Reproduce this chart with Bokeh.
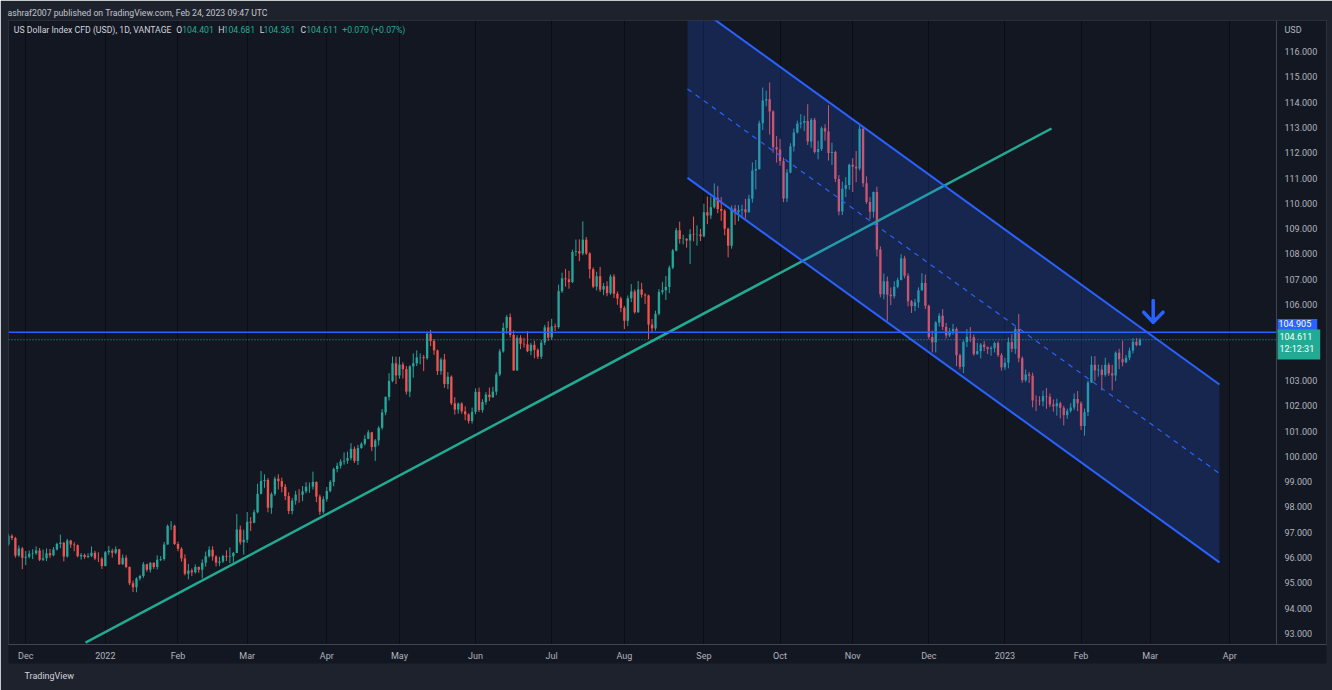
import numpy as np
import pandas as pd
from bokeh.plotting import figure
from bokeh.models import (Range1d, FixedTicker, NumeralTickFormatter, Label, Title,
                          ColumnDataSource)
from bokeh.embed import file_html
from bokeh.resources import INLINE

FONT = "Roboto"

# ---------------- daily candles (US Dollar Index CFD, 1D) ----------------
first_open = 96.50

c_2021_11 = [96.52, 96.86, 96.77, 96.08, 96.36, 95.99]
h_2021_11 = [96.72, 96.94, 96.92, 96.82, 96.48, 96.42]
l_2021_11 = [96.38, 96.47, 96.69, 96.00, 96.03, 95.54]

c_2021_12 = [96.03, 96.15, 96.17, 96.28, 95.91, 95.97, 96.17, 96.09, 96.32, 96.54, 96.59, 96.04,
             96.68, 96.52, 96.49, 96.05, 96.10, 96.02, 96.06, 96.19, 95.96, 95.95, 95.67]
h_2021_12 = [96.26, 96.28, 96.33, 96.44, 96.38, 96.32, 96.36, 96.34, 96.42, 96.59, 96.91, 96.62,
             96.74, 96.70, 96.61, 96.52, 96.18, 96.16, 96.17, 96.44, 96.27, 96.21, 96.02]
l_2021_12 = [95.70, 95.97, 95.94, 96.11, 95.86, 95.86, 95.86, 95.99, 96.05, 96.28, 96.37, 95.85,
             96.00, 96.38, 96.25, 96.01, 95.92, 95.95, 95.98, 96.02, 95.90, 95.82, 95.55]

c_2022_01 = [96.21, 96.27, 96.19, 96.33, 95.74, 95.99, 95.63, 94.99, 94.83, 95.17, 95.27, 95.74,
             95.52, 95.80, 95.63, 95.91, 95.94, 96.52, 97.25, 97.26, 96.54]
h_2022_01 = [96.26, 96.46, 96.35, 96.44, 96.34, 96.12, 96.09, 95.65, 95.09, 95.22, 95.32, 95.82,
             95.76, 95.82, 95.81, 96.09, 96.06, 96.62, 97.31, 97.44, 97.30]
l_2022_01 = [95.65, 96.11, 96.00, 96.13, 95.71, 95.71, 95.58, 94.91, 94.64, 94.63, 95.10, 95.20,
             95.45, 95.41, 95.55, 95.53, 95.86, 95.88, 96.51, 97.09, 96.50]

c_2022_02 = [96.35, 95.96, 95.36, 95.49, 95.42, 95.63, 95.52, 95.80, 96.05, 96.31, 96.04, 95.80,
             95.85, 96.06, 96.03, 96.05, 96.18, 97.11, 96.61, 96.71]
h_2022_02 = [96.63, 96.41, 96.13, 95.75, 95.57, 95.73, 95.65, 95.93, 96.24, 96.44, 96.45, 96.09,
             96.03, 96.11, 96.29, 96.40, 96.22, 97.72, 97.27, 97.10]
l_2022_02 = [96.25, 95.84, 95.30, 95.14, 95.27, 95.37, 95.40, 95.18, 95.64, 96.00, 95.88, 95.65,
             95.67, 95.79, 95.86, 95.78, 95.81, 96.18, 96.51, 96.12]

c_2022_03 = [97.42, 97.38, 97.79, 98.52, 99.03, 99.07, 97.97, 98.51, 99.12, 99.02, 98.80, 98.43,
             97.84, 98.25, 98.49, 98.48, 98.62, 98.80, 98.81, 98.99, 98.41, 97.81, 98.31]
h_2022_03 = [97.80, 97.60, 97.89, 98.92, 99.42, 99.29, 99.14, 98.58, 99.20, 99.29, 99.16, 98.91,
             98.58, 98.36, 98.64, 98.71, 98.83, 98.98, 98.97, 99.40, 99.01, 98.49, 98.42]
l_2022_03 = [96.58, 97.05, 97.36, 97.75, 98.50, 98.76, 97.79, 97.73, 98.44, 98.69, 98.58, 98.27,
             97.72, 97.71, 98.09, 98.17, 98.23, 98.54, 98.56, 98.69, 98.19, 97.69, 97.73]

c_2022_04 = [98.63, 98.99, 99.50, 99.63, 99.80, 99.83, 99.93, 100.30, 99.82, 100.33, 100.50, 100.69,
             100.95, 100.37, 100.63, 101.13, 101.74, 102.35, 102.98, 103.68, 103.20]
h_2022_04 = [98.79, 99.06, 99.56, 99.75, 99.89, 100.16, 100.19, 100.52, 100.39, 100.45, 100.56, 100.84,
             101.04, 100.97, 100.69, 101.19, 101.87, 102.37, 103.29, 103.95, 103.94]
l_2022_04 = [98.21, 98.58, 98.82, 99.37, 99.52, 99.67, 99.71, 99.84, 99.74, 99.66, 100.30, 100.43,
             100.68, 100.21, 99.82, 100.43, 101.06, 101.63, 102.21, 102.93, 102.86]

c_2022_05 = [103.63, 103.45, 102.56, 103.56, 103.68, 103.91, 103.92, 103.88, 104.85, 104.56, 104.19,
             103.37, 103.83, 102.86, 103.15, 102.10, 101.85, 102.09, 101.78, 101.66, 101.40, 101.76]
h_2022_05 = [103.94, 103.72, 103.57, 103.60, 104.07, 104.19, 104.07, 104.01, 104.93, 105.00, 104.64,
             104.22, 103.90, 104.05, 103.33, 103.20, 102.34, 102.13, 102.14, 101.98, 101.70, 101.93]
l_2022_05 = [103.07, 103.08, 102.45, 102.35, 103.11, 103.57, 103.64, 103.37, 103.82, 104.36, 104.01,
             103.22, 103.23, 102.71, 102.66, 102.03, 101.65, 101.69, 101.69, 101.43, 101.30, 101.30]

c_2022_06 = [102.55, 101.83, 102.15, 102.44, 102.34, 102.56, 103.24, 104.15, 105.08, 105.51, 104.80,
             103.40, 104.69, 104.45, 104.43, 104.16, 104.41, 104.21, 103.94, 104.50, 105.10, 104.70]
h_2022_06 = [102.69, 102.72, 102.26, 102.54, 102.72, 102.75, 103.33, 104.24, 105.28, 105.59, 105.65,
             104.98, 104.79, 104.79, 104.69, 104.95, 104.49, 104.57, 104.27, 104.60, 105.20, 105.34]
l_2022_06 = [101.66, 101.75, 101.73, 102.04, 102.19, 102.31, 102.42, 103.17, 104.10, 104.85, 104.70,
             103.38, 103.38, 104.24, 104.30, 104.12, 104.00, 103.88, 103.85, 103.85, 104.40, 104.56]

c_2022_07 = [105.14, 105.11, 106.53, 107.04, 107.00, 106.89, 108.08, 108.11, 108.02, 108.56, 108.02,
             107.40, 106.71, 107.12, 106.59, 106.73, 106.45, 107.11, 106.43, 106.24, 105.87]
h_2022_07 = [105.44, 105.25, 106.79, 107.26, 107.41, 107.34, 108.17, 108.57, 108.58, 109.29, 108.67,
             108.07, 107.47, 107.30, 107.49, 106.85, 106.92, 107.19, 107.20, 106.52, 106.31]
l_2022_07 = [104.60, 104.96, 105.05, 106.46, 106.71, 106.63, 106.85, 107.92, 107.72, 107.95, 107.96,
             107.03, 106.65, 106.56, 106.50, 106.37, 106.33, 106.39, 106.26, 105.99, 105.70]

c_2022_08 = [105.36, 106.25, 106.52, 105.70, 106.60, 106.39, 106.36, 105.21, 105.06, 105.64, 106.50,
             106.57, 106.70, 107.46, 108.14, 108.94, 108.59, 108.60, 108.53, 108.78, 108.76, 108.77, 108.70]
h_2022_08 = [105.95, 106.36, 106.81, 106.60, 106.93, 106.86, 106.45, 106.39, 105.43, 105.76, 106.61,
             106.90, 107.13, 107.54, 108.20, 109.03, 109.28, 108.76, 108.62, 108.98, 109.48, 109.13, 108.99]
l_2022_08 = [105.03, 105.15, 106.10, 105.64, 105.67, 106.27, 106.02, 104.64, 104.87, 104.97, 105.57,
             106.40, 106.18, 106.45, 107.40, 108.10, 108.41, 108.38, 108.25, 107.60, 108.50, 108.33, 108.51]

c_2022_09 = [109.65, 109.52, 109.85, 110.22, 109.78, 109.71, 109.00, 108.33, 109.80, 109.65, 109.73,
             109.77, 109.65, 110.18, 111.30, 111.36, 113.17, 114.07, 114.12, 113.63, 112.22, 112.13]
h_2022_09 = [109.99, 110.27, 110.27, 110.79, 110.69, 110.25, 109.77, 109.04, 109.92, 109.94, 109.93,
             109.95, 110.18, 110.34, 111.62, 111.72, 113.27, 114.58, 114.46, 114.78, 113.68, 112.66]
l_2022_09 = [108.66, 109.18, 109.38, 109.80, 109.61, 109.31, 108.74, 107.87, 108.21, 109.15, 109.30,
             109.43, 109.41, 109.64, 110.03, 110.55, 111.33, 112.90, 113.84, 112.72, 112.00, 111.61]

c_2022_10 = [111.68, 110.19, 111.22, 112.25, 112.80, 113.15, 113.19, 113.26, 112.45, 113.31, 112.03,
             112.15, 112.97, 112.84, 111.99, 112.03, 110.96, 109.68, 110.58, 110.73, 111.53]
h_2022_10 = [112.55, 111.81, 111.36, 112.38, 112.96, 113.27, 113.53, 113.47, 113.92, 113.37, 113.38,
             112.48, 113.04, 113.13, 113.88, 112.40, 112.08, 111.12, 110.86, 111.04, 111.57]
l_2022_10 = [111.49, 110.05, 110.05, 111.19, 112.05, 112.76, 112.96, 112.86, 112.31, 112.20, 111.97,
             111.74, 112.07, 112.48, 111.69, 111.52, 110.84, 109.53, 109.54, 110.25, 110.54]

c_2022_11 = [111.45, 111.38, 112.95, 110.80, 110.06, 109.67, 110.45, 108.18, 106.41, 106.92, 106.39,
             106.33, 106.70, 106.97, 107.83, 107.14, 106.13, 105.94, 106.09, 106.56, 106.86, 105.95]
h_2022_11 = [111.79, 112.07, 113.08, 113.02, 111.07, 110.25, 110.47, 110.66, 108.30, 107.23, 107.11,
             106.68, 106.92, 107.06, 107.99, 107.93, 107.24, 106.18, 106.22, 106.68, 107.24, 107.19]
l_2022_11 = [110.45, 110.84, 111.30, 110.65, 109.98, 109.37, 109.44, 107.90, 106.29, 106.21, 105.36,
             105.98, 106.24, 106.64, 106.96, 107.04, 105.93, 105.67, 105.74, 105.87, 106.56, 105.82]

c_2022_12 = [104.72, 104.51, 105.29, 105.56, 105.12, 104.78, 104.94, 105.04, 104.00, 103.54, 104.52,
             104.73, 104.71, 104.04, 104.16, 104.42, 104.32, 104.24, 104.28, 104.48, 104.00, 103.52]
h_2022_12 = [106.00, 104.97, 105.35, 105.66, 105.82, 105.28, 105.07, 105.24, 105.10, 104.06, 104.59,
             105.03, 105.11, 104.82, 104.49, 104.48, 104.56, 104.34, 104.36, 104.53, 104.55, 104.08]
l_2022_12 = [104.63, 104.11, 104.11, 105.13, 104.99, 104.66, 104.71, 104.81, 103.57, 103.44, 103.29,
             104.32, 104.52, 103.98, 104.02, 103.87, 104.16, 104.05, 103.98, 104.11, 103.93, 103.39]

c_2023_01 = [103.70, 104.52, 104.25, 105.03, 103.88, 103.01, 103.24, 103.19, 102.21, 102.20, 102.18,
             102.38, 102.36, 102.05, 101.98, 102.10, 101.92, 101.63, 101.80, 101.93, 102.27, 102.10]
h_2023_01 = [103.90, 104.70, 104.83, 105.12, 105.63, 103.95, 103.43, 103.34, 103.31, 102.41, 102.38,
             102.60, 102.70, 102.49, 102.25, 102.28, 102.16, 102.00, 101.89, 102.10, 102.49, 102.58]
l_2023_01 = [103.41, 103.48, 104.12, 104.05, 103.72, 102.91, 102.94, 102.90, 101.94, 101.79, 102.01,
             101.98, 101.88, 101.95, 101.77, 101.61, 101.50, 101.22, 101.48, 101.73, 101.83, 101.79]

c_2023_02 = [101.20, 101.75, 102.92, 103.62, 103.40, 103.43, 103.22, 103.62, 103.28, 103.20, 104.10,
             103.84, 103.72, 103.90, 104.18, 104.53, 104.401, 104.611]
h_2023_02 = [102.18, 101.89, 103.00, 103.96, 103.96, 103.63, 103.61, 103.90, 103.70, 103.62, 104.15,
             104.25, 104.58, 104.01, 104.30, 104.67, 104.68, 104.681]
l_2023_02 = [101.04, 100.82, 101.60, 102.90, 102.99, 103.15, 102.61, 103.15, 103.18, 102.61, 102.98,
             103.45, 103.56, 103.68, 103.80, 104.07, 104.35, 104.361]

# time axis labels (first trading day of each month)
month_labels = ["Dec", "2022", "Feb", "Mar", "Apr", "May", "Jun", "Jul", "Aug", "Sep",
                "Oct", "Nov", "Dec", "2023", "Feb", "Mar", "Apr"]
price_ticks = list(range(93, 117))

# drawings (bar index, price)
trend_x = [23.27, 302.46]
trend_y = [92.64, 112.96]
chan_x = [197.25, 351.0]
chan_upper = [118.04, 102.84]
chan_lower = [111.01, 95.81]
level_price = 104.905
last_price = 104.611
last_time = "12:12:31"
arrow_stem_x = [331.85, 331.85]
arrow_stem_y = [106.16, 105.30]
arrow_head_x = [329.1, 331.85, 334.7]
arrow_head_y = [105.70, 105.30, 105.70]

header_title = "ashraf2007 published on TradingView.com, Feb 24, 2023 09:47 UTC"
header_parts = [("US Dollar Index CFD (USD), 1D, VANTAGE", 13.3, "#d1d4dc"),
                ("O", 175.7, "#d1d4dc"), ("104.401", 181.7, "#22ab94"),
                ("H", 217.7, "#d1d4dc"), ("104.681", 223.0, "#22ab94"),
                ("L", 259.3, "#d1d4dc"), ("104.361", 263.0, "#22ab94"),
                ("C", 300.0, "#d1d4dc"), ("104.611", 305.7, "#22ab94"),
                ("+0.070 (+0.07%)", 341.7, "#22ab94")]

# ---------------- assemble ----------------
close = (c_2021_11 + c_2021_12 + c_2022_01 + c_2022_02 + c_2022_03 + c_2022_04 + c_2022_05 +
         c_2022_06 + c_2022_07 + c_2022_08 + c_2022_09 + c_2022_10 + c_2022_11 + c_2022_12 +
         c_2023_01 + c_2023_02)
high = (h_2021_11 + h_2021_12 + h_2022_01 + h_2022_02 + h_2022_03 + h_2022_04 + h_2022_05 +
        h_2022_06 + h_2022_07 + h_2022_08 + h_2022_09 + h_2022_10 + h_2022_11 + h_2022_12 +
        h_2023_01 + h_2023_02)
low = (l_2021_11 + l_2021_12 + l_2022_01 + l_2022_02 + l_2022_03 + l_2022_04 + l_2022_05 +
       l_2022_06 + l_2022_07 + l_2022_08 + l_2022_09 + l_2022_10 + l_2022_11 + l_2022_12 +
       l_2023_01 + l_2023_02)
n = len(close)
opens = [first_open] + close[:-1]
idx = list(range(n))
top = [max(o, c) for o, c in zip(opens, close)]
bot = [min(o, c) for o, c in zip(opens, close)]
hi = [max(h, t) for h, t in zip(high, top)]
lo = [min(l, b) for l, b in zip(low, bot)]
colors = ["#26a69a" if c >= o else "#ef5350" for o, c in zip(opens, close)]

all_days = pd.bdate_range("2021-11-23", "2023-04-28")
per = all_days.to_period("M")
starts = [i for i in range(1, len(all_days)) if per[i] != per[i - 1]]
month_ticks = starts[:len(month_labels)]

src = ColumnDataSource(dict(x=idx, top=top, bottom=bot, high=hi, low=lo, color=colors))

# ---------------- figure / layout ----------------
W, H = 1332, 690
FL, FR, FT, FB = 8, 1326, 20, 644          # frame edges (pane + price column), canvas px
PANE_R = 1276                              # right edge of the price pane, canvas px
PX_PER_BAR = 3.46
PX_PER_USD = 25.3
x0 = 1.0116
y0 = 92.565


def bx(px):  # canvas x pixel -> bar coordinate
    return x0 + (px - FL) / PX_PER_BAR


def py(px):  # canvas y pixel -> price coordinate
    return y0 + (FB - px) / PX_PER_USD


pane_end = bx(PANE_R)

p = figure(width=W, height=H,
           x_range=Range1d(x0, bx(FR)),
           y_range=Range1d(y0, py(FT)),
           y_axis_location="right", output_backend="svg", toolbar_location=None,
           min_border_left=FL, min_border_right=W - FR, min_border_top=FT,
           min_border_bottom=H - FB,
           background_fill_color="#131722", border_fill_color="#1e222d",
           outline_line_color="#2a2e39", title=header_title)

p.title.align = "left"
p.title.offset = -1
p.title.standoff = 5
p.title.text_font = FONT
p.title.text_font_size = "8.7px"
p.title.text_font_style = "normal"
p.title.text_color = "#c3c6ce"

# axes
ya = p.yaxis[0]
ya.ticker = FixedTicker(ticks=price_ticks)
ya.formatter = NumeralTickFormatter(format="0.000")
ya.fixed_location = pane_end
xa = p.xaxis[0]
xa.ticker = FixedTicker(ticks=month_ticks)
xa.major_label_overrides = {t: lab for t, lab in zip(month_ticks, month_labels)}
for ax in (xa, ya):
    ax.major_tick_line_color = None
    ax.minor_tick_line_color = None
    ax.major_tick_out = 0
    ax.major_tick_in = 0
    ax.minor_tick_out = 0
    ax.axis_line_color = "#434651"
    ax.major_label_text_color = "#b2b5be"
    ax.major_label_text_font = FONT
    ax.major_label_text_font_size = "9px"
try:
    xa.background_fill_color = "#131722"
except AttributeError:
    pass
ya.major_label_standoff = 8
xa.major_label_standoff = 6

p.xgrid.ticker = FixedTicker(ticks=month_ticks)
p.xgrid.grid_line_color = "#0b0d13"
p.xgrid.grid_line_width = 1
p.ygrid.grid_line_color = None

# candles
p.segment(x0="x", y0="high", x1="x", y1="low", line_color="color", line_width=1, source=src)
p.vbar(x="x", width=0.68, top="top", bottom="bottom", fill_color="color", line_color=None, source=src)

# trend line
p.line(trend_x, trend_y, line_color="#22ab94", line_width=2.5)

# parallel channel
p.patch([chan_x[0], chan_x[1], chan_x[1], chan_x[0]],
        [chan_upper[0], chan_upper[1], chan_lower[1], chan_lower[0]],
        fill_color="#2962ff", fill_alpha=0.2, line_color=None)
p.line(chan_x, chan_upper, line_color="#2962ff", line_width=2)
p.line(chan_x, chan_lower, line_color="#2962ff", line_width=2)
p.line(chan_x, [(a + b) / 2 for a, b in zip(chan_upper, chan_lower)],
       line_color="#2962ff", line_width=1.2, line_dash="5 5")

# horizontal level & last price (across the price pane)
p.line([x0, pane_end], [level_price, level_price], line_color="#2962ff", line_width=1.5)
p.line([x0, pane_end], [last_price, last_price], line_color="#26a69a", line_width=1,
       line_dash="1 2")

# arrow
p.line(arrow_stem_x, arrow_stem_y, line_color="#2962ff", line_width=3.5, line_cap="round")
p.line(arrow_head_x, arrow_head_y, line_color="#2962ff", line_width=3.5, line_cap="round",
       line_join="round")

# header legend (inside the pane)
for txt, xs, col in header_parts:
    p.add_layout(Label(x=bx(xs), y=py(29), text=txt, text_color=col,
                       text_font=FONT, text_font_size="8.7px", text_baseline="middle"))

# price column annotations
p.add_layout(Label(x=bx(1284), y=py(29), text="USD", text_color="#b2b5be",
                   text_font=FONT, text_font_size="9px", text_baseline="middle"))
p.add_layout(Label(x=bx(1277), y=py(325.5), text="%.3f" % level_price, text_color="#ffffff",
                   text_font=FONT, text_font_size="9px", text_baseline="middle",
                   background_fill_color="#2962ff", padding=(1, 6, 1, 6)))
p.add_layout(Label(x=bx(1277), y=py(344), text="%.3f\n%s" % (last_price, last_time),
                   text_color="#ffffff", text_font=FONT, text_font_size="9px",
                   text_baseline="middle", background_fill_color="#22ab94",
                   padding=(2, 6, 2, 6)))

# footer
p.add_layout(Title(text="TradingView", align="left", offset=16, standoff=11,
                   text_font=FONT, text_font_size="9px", text_font_style="normal",
                   text_color="#d1d4dc"), "below")

open("out.html", "w").write(file_html(p, INLINE))
